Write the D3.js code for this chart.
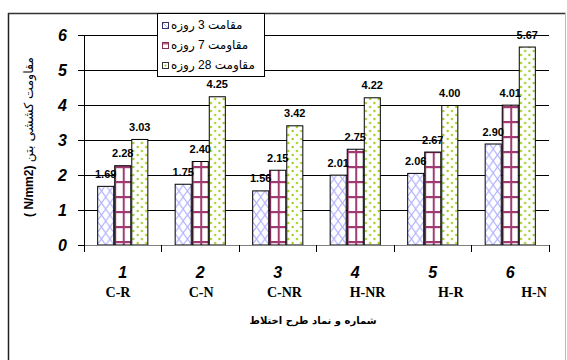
<!DOCTYPE html>
<html><head><meta charset="utf-8">
<script src="https://cdn.jsdelivr.net/npm/d3@7"></script>
<style>html,body{margin:0;padding:0;background:#fff;}svg{display:block;}</style>
</head><body>
<svg id="c" width="567" height="360"></svg>
<script>
const categories = ["1","2","3","4","5","6"];
const codes = ["C-R","C-N","C-NR","H-NR","H-R","H-N"];
const seriesNames = ["مقامت 3 روزه","مقاومت 7 روزه","مقاومت 28 روزه"];
const day3 = [1.69,1.75,1.56,2.01,2.06,2.90];
const day7 = [2.28,2.40,2.15,2.75,2.67,4.01];
const day28 = [3.03,4.25,3.42,4.22,4.00,5.67];
const yTicks = [0,1,2,3,4,5,6];
const yTitleUnit = "( N/mm2)";
const yTitleText = "مقاومت کششی بتن";
const xTitle = "شماره و نماد طرح اختلاط";

const series = [day3, day7, day28];
const svg = d3.select("#c");
const defs = svg.append("defs");
const L = 84, R = 549, T = 35, B = 245;
const x0 = d3.scaleBand().domain(categories).range([L,R]).paddingInner(0.34).paddingOuter(0.17);
const x1 = d3.scaleBand().domain([0,1,2]).range([0,x0.bandwidth()]);
const y = d3.scaleLinear().domain([0,6]).range([B,T]);
const codeX = d3.scalePoint().domain(codes).range([118,534]);
const bw = x1.bandwidth();

// outer frame
svg.append("line").attr("x1",8.5).attr("x2",8.5).attr("y1",13).attr("y2",360).attr("stroke","#222").attr("stroke-width",1.5);
svg.append("line").attr("x1",8).attr("x2",566).attr("y1",13.5).attr("y2",13.5).attr("stroke","#333").attr("stroke-width",1.5);
svg.append("line").attr("x1",565.5).attr("x2",565.5).attr("y1",13).attr("y2",360).attr("stroke","#bbb").attr("stroke-width",1);

// gridlines
svg.append("g").selectAll("line").data(yTicks.filter(d=>d>0)).join("line")
  .attr("x1",L).attr("x2",R).attr("y1",d=>Math.round(y(d))+0.5).attr("y2",d=>Math.round(y(d))+0.5)
  .attr("stroke","#000").attr("stroke-width",1);

// patterns per bar
const flat = [];
categories.forEach((c,i)=>series.forEach((s,j)=>flat.push({c,i,j,v:s[i]})));
flat.forEach((d,k)=>{
  const bx = x0(d.c)+x1(d.j);
  const p = defs.append("pattern").attr("id","p"+k).attr("patternUnits","userSpaceOnUse")
    .attr("x",bx).attr("y",B);
  if(d.j===0){
    p.attr("width",bw/2).attr("height",12);
    p.append("rect").attr("width",bw/2).attr("height",12).attr("fill","#fff");
    p.append("line").attr("x1",0).attr("y1",0).attr("x2",bw/2).attr("y2",12).attr("stroke","#b0b0ff").attr("stroke-width",1.1);
    p.append("line").attr("x1",bw/2).attr("y1",0).attr("x2",0).attr("y2",12).attr("stroke","#b0b0ff").attr("stroke-width",1.1);
  } else if(d.j===1){
    p.attr("width",bw/2).attr("height",15);
    p.append("rect").attr("width",bw/2).attr("height",15).attr("fill","#fff");
    p.append("rect").attr("x",0).attr("y",0).attr("width",2).attr("height",15).attr("fill","#a03a70");
    p.append("rect").attr("x",0).attr("y",11).attr("width",bw/2).attr("height",2.2).attr("fill","#a03a70");
  } else {
    p.attr("width",bw/2).attr("height",8);
    p.append("rect").attr("width",bw/2).attr("height",8).attr("fill","#fff");
    p.append("circle").attr("cx",bw/8).attr("cy",2).attr("r",1.2).attr("fill","#a0d020");
    p.append("circle").attr("cx",bw*3/8).attr("cy",6).attr("r",1.2).attr("fill","#a0d020");
  }
  d.k = k;
});

// bars
svg.append("g").selectAll("rect").data(flat).join("rect")
  .attr("x",d=>x0(d.c)+x1(d.j)+0.5).attr("y",d=>y(d.v)+0.5)
  .attr("width",bw-1).attr("height",d=>B-y(d.v)-0.5)
  .attr("fill",d=>"url(#p"+d.k+")").attr("stroke","#000").attr("stroke-width",1);

// value labels
svg.append("g").selectAll("text").data(flat).join("text")
  .attr("x",d=>x0(d.c)+x1(d.j)+bw/2).attr("y",d=>y(d.v)-8)
  .attr("text-anchor","middle").attr("font-family","Liberation Sans, Arial, sans-serif")
  .attr("font-weight","bold").attr("font-size",11).attr("fill","#000")
  .text(d=>d.v.toFixed(2));

// axes lines
svg.append("line").attr("x1",L+0.5).attr("x2",L+0.5).attr("y1",T).attr("y2",B).attr("stroke","#000");
svg.append("line").attr("x1",L).attr("x2",R+0.5).attr("y1",B+0.5).attr("y2",B+0.5).attr("stroke","#808080").attr("stroke-width",1.2);
svg.append("g").selectAll("line").data(yTicks).join("line")
  .attr("x1",78).attr("x2",L).attr("y1",d=>Math.round(y(d))+0.5).attr("y2",d=>Math.round(y(d))+0.5).attr("stroke","#000");
const bounds = categories.map(c=>x0(c)-x0.step()*0.17).concat([R]);
svg.append("g").selectAll("line").data(bounds).join("line")
  .attr("x1",d=>Math.round(d)+0.5).attr("x2",d=>Math.round(d)+0.5).attr("y1",B).attr("y2",B+7).attr("stroke","#000");

// y tick labels
svg.append("g").selectAll("text").data(yTicks).join("text")
  .attr("x",67).attr("y",d=>y(d)+6).attr("text-anchor","end")
  .attr("font-family","Liberation Sans, Arial, sans-serif").attr("font-weight","bold").attr("font-style","italic")
  .attr("font-size",16).text(d=>d);

// category labels
svg.append("g").selectAll("text").data(categories).join("text")
  .attr("x",d=>x0(d)+x0.bandwidth()/2).attr("y",278).attr("text-anchor","middle")
  .attr("font-family","Liberation Sans, Arial, sans-serif").attr("font-weight","bold").attr("font-style","italic")
  .attr("font-size",16).text(d=>d);
svg.append("g").selectAll("text").data(codes).join("text")
  .attr("x",d=>codeX(d)).attr("y",297).attr("text-anchor","middle")
  .attr("font-family","Liberation Serif, Times New Roman, serif").attr("font-weight","bold")
  .attr("font-size",14).text(d=>d);

// x title
svg.append("text").attr("x",313).attr("y",324).attr("text-anchor","middle")
  .attr("font-family","DejaVu Sans, sans-serif").attr("font-weight","bold").attr("font-size",10)
  .text(xTitle);

// y title
const yt = svg.append("text").attr("transform","translate(33,137) rotate(-90)").attr("text-anchor","middle");
yt.append("tspan").attr("font-family","Liberation Sans, Arial, sans-serif").attr("font-weight","bold").attr("font-size",12)
  .text(yTitleUnit + " ");
yt.append("tspan").attr("font-family","DejaVu Sans, sans-serif").attr("font-size",12.5)
  .text(yTitleText);

// legend
const lg = svg.append("g");
lg.append("rect").attr("x",157.5).attr("y",13.5).attr("width",107).attr("height",63).attr("fill","#fff").attr("stroke","#000");
const swStroke = ["#333366","#803050","#333"];
seriesNames.forEach((n,i)=>{
  const yy = 22 + i*20;
  lg.append("rect").attr("x",162.5).attr("y",yy+0.5).attr("width",6).attr("height",6).attr("fill","#fff").attr("stroke",swStroke[i]);
  if(i===0) lg.append("line").attr("x1",163).attr("y1",yy+1).attr("x2",168).attr("y2",yy+6).attr("stroke","#a9a9ff");
  if(i===1) lg.append("rect").attr("x",163).attr("y",yy+1).attr("width",5).attr("height",1.5).attr("fill","#c06080");
  if(i===2) lg.append("circle").attr("cx",165.5).attr("cy",yy+3.5).attr("r",1).attr("fill","#99cc00");
  lg.append("text").attr("x",171).attr("y",yy+7).attr("font-family","Liberation Sans, DejaVu Sans, sans-serif")
    .attr("font-size",12).text(n);
});
</script>
</body></html>
